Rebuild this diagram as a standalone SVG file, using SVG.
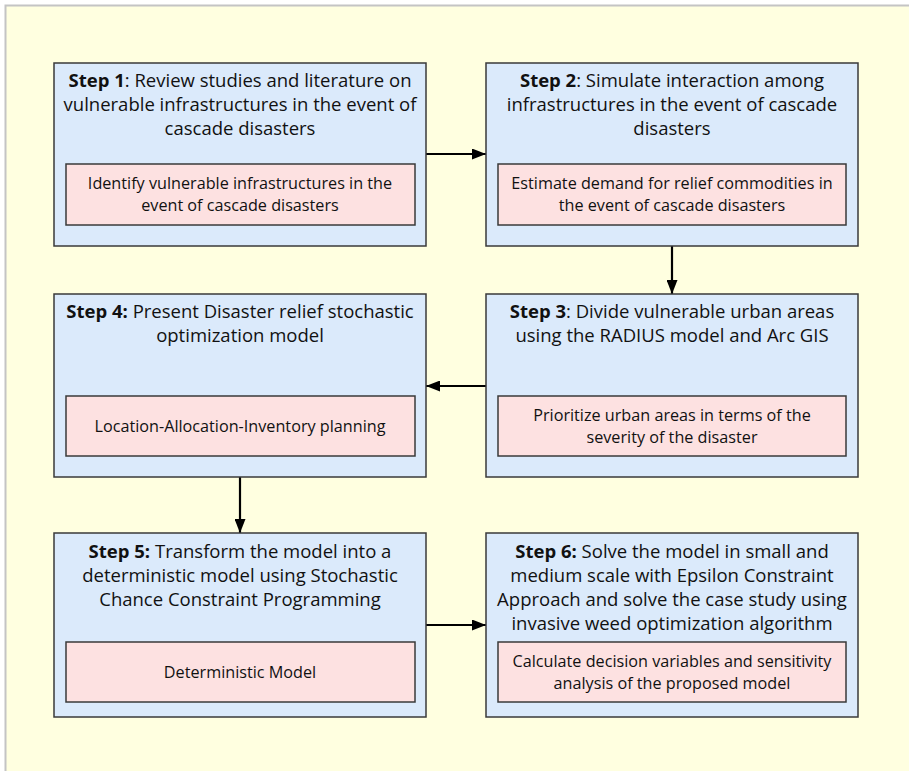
<svg xmlns="http://www.w3.org/2000/svg" width="909" height="771" viewBox="0 0 909 771">
<style>
.step{fill:#dbeafb;stroke:#3a3a3a;stroke-width:1.5}
.sub{fill:#fde1e1;stroke:#3a3a3a;stroke-width:1.5}
.t{font-family:"Open Sans","Liberation Sans",sans-serif;font-size:18.5px;fill:#111;text-anchor:middle}
.s{font-family:"Open Sans","Liberation Sans",sans-serif;font-size:16.2px;fill:#111;text-anchor:middle}
.b{font-weight:bold}
.c{stroke:#000;stroke-width:2.2;fill:none;marker-end:url(#ah)}
</style>
<defs>
<marker id="ah" markerWidth="14" markerHeight="11" refX="14" refY="5.5" orient="auto" markerUnits="userSpaceOnUse">
<path d="M0,0 L14,5.5 L0,11 Z" fill="#000"/>
</marker>
</defs>
<rect x="0" y="0" width="909" height="771" fill="#fff"/>
<rect x="5.5" y="5.5" width="910" height="780" fill="#ffffe0" stroke="#c4c4c4" stroke-width="2"/>
<g id="connectors">
<line class="c" x1="426" y1="154" x2="486" y2="154"/>
<line class="c" x1="672" y1="246" x2="672" y2="294"/>
<line class="c" x1="486" y1="386" x2="426" y2="386"/>
<line class="c" x1="240" y1="477" x2="240" y2="533"/>
<line class="c" x1="426" y1="625" x2="486" y2="625"/>
</g>
<g id="step1">
<rect class="step" x="54" y="63" width="372" height="183"/>
<text class="t" x="240" y="87"><tspan class="b">Step 1</tspan>: Review studies and literature on</text>
<text class="t" x="240" y="111">vulnerable infrastructures in the event of</text>
<text class="t" x="240" y="135">cascade disasters</text>
<rect class="sub" x="66" y="164" width="349" height="61"/>
<text class="s" x="240" y="189">Identify vulnerable infrastructures in the</text>
<text class="s" x="240" y="211">event of cascade disasters</text>
</g>
<g id="step2">
<rect class="step" x="486" y="63" width="372" height="183"/>
<text class="t" x="672" y="87"><tspan class="b">Step 2</tspan>: Simulate interaction among</text>
<text class="t" x="672" y="111">infrastructures in the event of cascade</text>
<text class="t" x="672" y="135">disasters</text>
<rect class="sub" x="498" y="164" width="348" height="61"/>
<text class="s" x="672" y="189">Estimate demand for relief commodities in</text>
<text class="s" x="672" y="211">the event of cascade disasters</text>
</g>
<g id="step3">
<rect class="step" x="486" y="294" width="372" height="183"/>
<text class="t" x="672" y="318"><tspan class="b">Step 3</tspan>: Divide vulnerable urban areas</text>
<text class="t" x="672" y="342">using the RADIUS model and Arc GIS</text>
<rect class="sub" x="498" y="396" width="348" height="60"/>
<text class="s" x="672" y="421">Prioritize urban areas in terms of the</text>
<text class="s" x="672" y="443">severity of the disaster</text>
</g>
<g id="step4">
<rect class="step" x="54" y="294" width="372" height="183"/>
<text class="t" x="240" y="318"><tspan class="b">Step 4:</tspan> Present Disaster relief stochastic</text>
<text class="t" x="240" y="342">optimization model</text>
<rect class="sub" x="66" y="396" width="349" height="60"/>
<text class="s" x="240" y="432">Location-Allocation-Inventory planning</text>
</g>
<g id="step5">
<rect class="step" x="54" y="533" width="372" height="184"/>
<text class="t" x="240" y="558"><tspan class="b">Step 5:</tspan> Transform the model into a</text>
<text class="t" x="240" y="582">deterministic model using Stochastic</text>
<text class="t" x="240" y="606">Chance Constraint Programming</text>
<rect class="sub" x="66" y="642" width="349" height="60"/>
<text class="s" x="240" y="678">Deterministic Model</text>
</g>
<g id="step6">
<rect class="step" x="486" y="533" width="372" height="184"/>
<text class="t" x="672" y="558"><tspan class="b">Step 6:</tspan> Solve the model in small and</text>
<text class="t" x="672" y="582">medium scale with Epsilon Constraint</text>
<text class="t" x="672" y="606">Approach and solve the case study using</text>
<text class="t" x="672" y="630">invasive weed optimization algorithm</text>
<rect class="sub" x="498" y="642" width="348" height="60"/>
<text class="s" x="672" y="667">Calculate decision variables and sensitivity</text>
<text class="s" x="672" y="689">analysis of the proposed model</text>
</g>
</svg>
